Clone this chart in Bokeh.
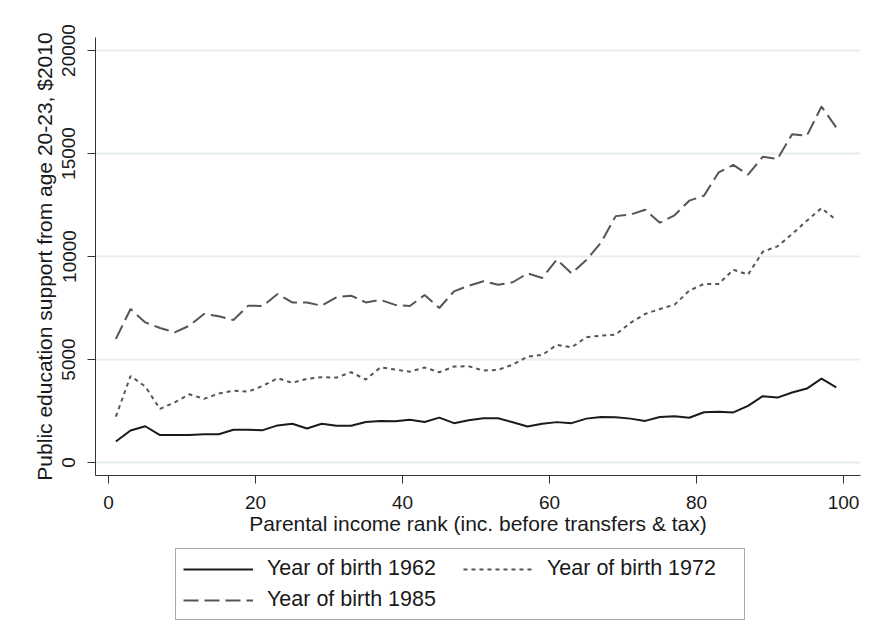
from bokeh.plotting import figure
from bokeh.layouts import column
from bokeh.models import Legend, LegendItem, FixedTicker, Range1d
from bokeh.embed import file_html
from bokeh.resources import INLINE

rank = [1, 3, 5, 7, 9, 11, 13, 15, 17, 19, 21, 23, 25, 27, 29, 31, 33, 35, 37, 39,
        41, 43, 45, 47, 49, 51, 53, 55, 57, 59, 61, 63, 65, 67, 69, 71, 73, 75, 77, 79,
        81, 83, 85, 87, 89, 91, 93, 95, 97, 99]

v1962 = [1020, 1550, 1760, 1330, 1340, 1330, 1370, 1370, 1590, 1590,
         1570, 1800, 1880, 1650, 1880, 1780, 1780, 1970, 2020, 2000,
         2070, 1970, 2180, 1910, 2050, 2150, 2150, 1950, 1750, 1880,
         1960, 1910, 2130, 2210, 2200, 2130, 2020, 2210, 2250, 2170,
         2440, 2460, 2430, 2750, 3220, 3150, 3400, 3590, 4070, 3650]

v1972 = [2230, 4200, 3690, 2600, 2920, 3310, 3090, 3350, 3490, 3440,
         3720, 4090, 3870, 4060, 4140, 4120, 4380, 4030, 4620, 4510,
         4410, 4610, 4380, 4660, 4670, 4460, 4500, 4750, 5140, 5220,
         5710, 5590, 6080, 6160, 6210, 6780, 7210, 7450, 7660, 8340,
         8670, 8670, 9360, 9120, 10230, 10490, 11090, 11740, 12350, 11770]

v1985 = [6000, 7450, 6800, 6530, 6320, 6640, 7210, 7100, 6920, 7610,
         7600, 8180, 7770, 7770, 7610, 8020, 8100, 7770, 7890, 7650,
         7600, 8130, 7500, 8310, 8580, 8800, 8630, 8750, 9180, 8960,
         9850, 9180, 9830, 10680, 11960, 12030, 12270, 11640, 12000, 12710,
         12950, 14080, 14450, 13970, 14840, 14730, 15940, 15860, 17280, 16260]

x_ticks = [0, 20, 40, 60, 80, 100]
y_ticks = [0, 5000, 10000, 15000, 20000]
series_labels = ["Year of birth 1962", "Year of birth 1972", "Year of birth 1985"]

FONT = "Liberation Sans"
TXT = "#1a1a1a"
STYLES = [dict(line_color="#1a1a1a", line_width=2),
          dict(line_color="#555555", line_width=2, line_dash="4 4"),
          dict(line_color="#555555", line_width=2, line_dash="15 6")]

p = figure(width=865, height=540, output_backend="svg", toolbar_location=None,
           x_range=Range1d(-1.77, 102.3), y_range=Range1d(-631, 20631),
           min_border_left=95, min_border_right=5, min_border_top=37,
           min_border_bottom=65)
p.outline_line_color = None
p.background_fill_color = "white"
p.border_fill_color = "white"

p.line(rank, v1962, **STYLES[0])
p.line(rank, v1972, **STYLES[1])
p.line(rank, v1985, **STYLES[2])

for ax in (p.xaxis[0], p.yaxis[0]):
    ax.axis_line_color = "#333333"
    ax.axis_line_width = 1
    ax.major_tick_line_color = "#333333"
    ax.major_tick_out = 8
    ax.major_tick_in = 0
    ax.minor_tick_out = 0
    ax.minor_tick_in = 0
    ax.major_label_text_font = FONT
    ax.major_label_text_font_size = "19px"
    ax.major_label_text_color = TXT
    ax.axis_label_text_font = FONT
    ax.axis_label_text_font_size = "21px"
    ax.axis_label_text_font_style = "normal"
    ax.axis_label_text_color = TXT

p.xaxis.ticker = FixedTicker(ticks=x_ticks)
p.yaxis.ticker = FixedTicker(ticks=y_ticks)
p.xaxis.axis_label = "Parental income rank (inc. before transfers & tax)"
p.yaxis.axis_label = "Public education support from age 20-23, $2010"
p.yaxis.major_label_orientation = "vertical"
p.xaxis.major_label_standoff = 12
p.yaxis.major_label_standoff = 12
p.xaxis.axis_label_standoff = 0
p.yaxis.axis_label_standoff = 4

p.xgrid.grid_line_color = None
p.ygrid.grid_line_color = "#e6eef1"
p.ygrid.grid_line_width = 2

# legend panel below the chart (its lines lie outside its visible ranges;
# only the legend glyphs show)
lg = figure(width=865, height=96, output_backend="svg", toolbar_location=None,
            x_range=Range1d(-20, -10), y_range=Range1d(-20, -10),
            min_border_left=0, min_border_right=0, min_border_top=0,
            min_border_bottom=0, x_axis_type=None, y_axis_type=None)
lg.outline_line_color = None
lg.xgrid.grid_line_color = None
lg.ygrid.grid_line_color = None
k1 = lg.line(rank, v1962, **STYLES[0])
k2 = lg.line(rank, v1972, **STYLES[1])
k3 = lg.line(rank, v1985, **STYLES[2])

legend = Legend(items=[LegendItem(label=series_labels[0], renderers=[k1]),
                       LegendItem(label=series_labels[1], renderers=[k2]),
                       LegendItem(label=series_labels[2], renderers=[k3])],
                orientation="horizontal", ncols=2,
                location=(80, 16),
                label_text_font=FONT, label_text_font_size="21.5px",
                label_text_color=TXT,
                glyph_width=70, glyph_height=22, label_height=22,
                label_standoff=14, label_width=190, spacing=6, padding=7,
                border_line_color="#555555", border_line_width=1,
                background_fill_color="white", background_fill_alpha=1,
                margin=0)
lg.add_layout(legend, "center")

layout = column(p, lg, spacing=0)
open("out.html", "w").write(file_html(layout, INLINE))
